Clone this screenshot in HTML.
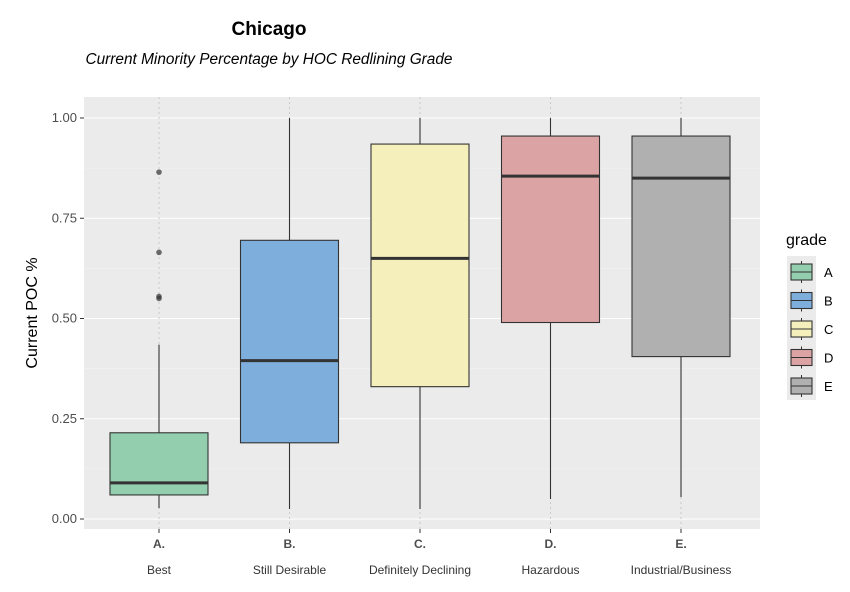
<!DOCTYPE html>
<html><head><meta charset="utf-8"><style>
body{margin:0;background:#fff;font-family:"Liberation Sans",sans-serif}
</style></head><body>
<svg id="c" width="850" height="587" xmlns="http://www.w3.org/2000/svg" font-family="Liberation Sans, sans-serif">
<text x="269" y="35" font-size="19" font-weight="bold" text-anchor="middle">Chicago</text>
<text x="269" y="64" font-size="15.4" font-style="italic" text-anchor="middle">Current Minority Percentage by HOC Redlining Grade</text>
<rect x="84" y="97" width="676" height="432" fill="#ebebeb"/>
<g id="grid"></g><g id="vgrid"></g><g id="boxes"></g><g id="axes"></g>
<text transform="translate(37,313) rotate(-90)" font-size="16" text-anchor="middle">Current POC %</text>
<g id="legend"></g>
</svg>
<script>
const categories=["A.","B.","C.","D.","E."];
const catLabels=["Best","Still Desirable","Definitely Declining","Hazardous","Industrial/Business"];
const grades=["A","B","C","D","E"];
const colors=["#93cfae","#7eaedb","#f5f0bb","#dba3a3","#b0b0b0"];
const whiskerLow=[0.027,0.025,0.025,0.05,0.055];
const q1=[0.06,0.19,0.33,0.49,0.405];
const median=[0.09,0.395,0.65,0.855,0.85];
const q3=[0.215,0.695,0.935,0.955,0.955];
const whiskerHigh=[0.435,1.0,1.0,1.0,1.0];
const outliersA=[0.865,0.665,0.555,0.55];
const yTicks=[0,0.25,0.5,0.75,1.0];
const yTickLabels=["0.00","0.25","0.50","0.75","1.00"];
const NS="http://www.w3.org/2000/svg";
const y=v=>519-v*401;
const x=i=>159+i*130.5;
const bw=98;
function mk(p,t,a){const e=document.createElementNS(NS,t);for(const k in a)e.setAttribute(k,a[k]);document.getElementById(p).appendChild(e);return e;}
yTicks.forEach((t,i)=>{
 if(i<yTicks.length-1){let e=mk("grid","line",{x1:84,x2:760,y1:y(t+0.125),y2:y(t+0.125),stroke:"#f5f5f5","stroke-width":0.6});
 }
 let g=mk("grid","line",{x1:84,x2:760,y1:y(t),y2:y(t),stroke:"#fff","stroke-width":1.1});
 
 let tk=mk("axes","line",{x1:80,x2:84,y1:y(t),y2:y(t),stroke:"#333"});
 
 let l=mk("axes","text",{x:77,y:y(t)+4,"font-size":13,fill:"#4d4d4d","text-anchor":"end"});l.textContent=yTickLabels[i];
 
});
categories.forEach((c,i)=>{
 let v=mk("vgrid","line",{x1:x(i),x2:x(i),y1:97,y2:529,stroke:"#bbb","stroke-opacity":0.7,"stroke-dasharray":"2,3"});
 
 let w=mk("boxes","line",{x1:x(i),x2:x(i),y1:y(whiskerLow[i]),y2:y(whiskerHigh[i]),stroke:"#333","stroke-width":1.1});
 
 let b=mk("boxes","rect",{x:x(i)-bw/2,y:y(q3[i]),width:bw,height:y(q1[i])-y(q3[i]),fill:colors[i],stroke:"#333","stroke-width":1.1});
 
 let m=mk("boxes","line",{x1:x(i)-bw/2,x2:x(i)+bw/2,y1:y(median[i]),y2:y(median[i]),stroke:"#333","stroke-width":3});
 
 let tk=mk("axes","line",{x1:x(i),x2:x(i),y1:529,y2:533,stroke:"#333"});
 
 let l=mk("axes","text",{x:x(i),y:548,"font-size":12,"font-weight":"bold",fill:"#4d4d4d","text-anchor":"middle"});l.textContent=c;
 
 let l2=mk("axes","text",{x:x(i),y:574,"font-size":12,fill:"#333","text-anchor":"middle"});l2.textContent=catLabels[i];
 
});
outliersA.forEach(v=>{let p=mk("boxes","circle",{cx:x(0),cy:y(v),r:2.8,fill:"#333","fill-opacity":0.7});
 });
let lt=mk("legend","text",{x:786,y:245,"font-size":16});lt.textContent="grade";

let lb=mk("legend","rect",{x:787,y:256,width:29,height:144,fill:"#ebebeb"});

grades.forEach((g,i)=>{const cy=272+i*28.5;
 let e=mk("legend","line",{x1:801.5,x2:801.5,y1:cy-11,y2:cy+11,stroke:"#333"});
 
 let r=mk("legend","rect",{x:791,y:cy-8,width:21,height:16,fill:colors[i],stroke:"#333","stroke-width":1.1});
 
 let m=mk("legend","line",{x1:791,x2:812,y1:cy,y2:cy,stroke:"#333","stroke-width":1.1});
 
 let t=mk("legend","text",{x:824,y:cy+5,"font-size":13});t.textContent=g;
 
});
</script>
</body></html>
